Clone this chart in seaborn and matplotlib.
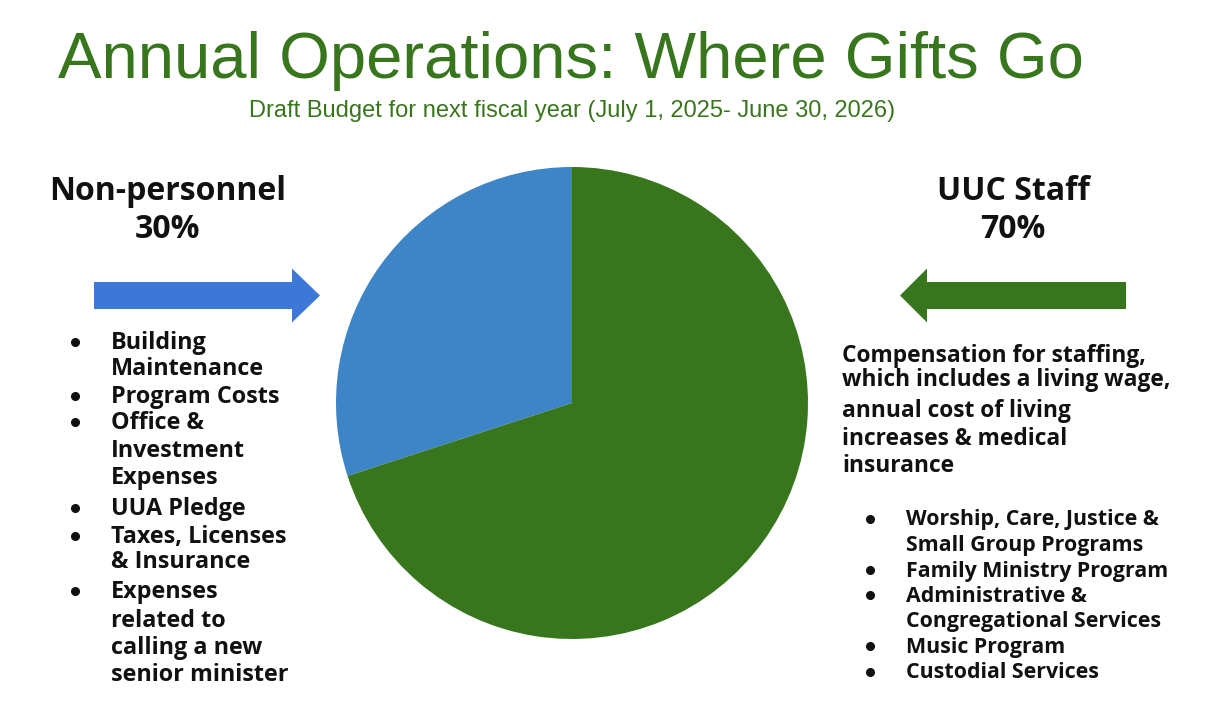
import matplotlib
matplotlib.use("Agg")
import matplotlib.pyplot as plt
import seaborn as sns
from matplotlib.patches import FancyArrow

# Data
categories = ["Non-personnel", "UUC Staff"]
shares = [30, 70]
left_items = [
    ["Building", "Maintenance"],
    ["Program Costs"],
    ["Office &", "Investment", "Expenses"],
    ["UUA Pledge"],
    ["Taxes, Licenses", "& Insurance"],
    ["Expenses", "related to", "calling a new", "senior minister"],
]
right_intro = [
    "Compensation for staffing,",
    "which includes a living wage,",
    "annual cost of living",
    "increases & medical",
    "insurance",
]
right_items = [
    ["Worship, Care, Justice &", "Small Group Programs"],
    ["Family Ministry Program"],
    ["Administrative &", "Congregational Services"],
    ["Music Program"],
    ["Custodial Services"],
]
title = "Annual Operations: Where Gifts Go"
subtitle = "Draft Budget for next fiscal year (July 1, 2025- June 30, 2026)"

sns.set_theme(style="white")
plt.rcParams["font.family"] = ["Open Sans", "DejaVu Sans"]

pie_colors = ["#3d85c6", "#38761d"]
green = "#38761d"
arrow_blue = "#3c78d8"
ink = "#111111"

W, H = 1217, 724
fig = plt.figure(figsize=(W / 100, H / 100), dpi=100)
fig.patch.set_facecolor("white")

# pixel-space overlay for text and arrows
ax = fig.add_axes([0, 0, 1, 1])
ax.set_xlim(0, W)
ax.set_ylim(H, 0)
ax.axis("off")
ax.patch.set_alpha(0)

# pie
cx, cy, r = 572, 403, 236
pax = fig.add_axes([(cx - r) / W, (H - cy - r) / H, 2 * r / W, 2 * r / H])
pax.pie(shares, colors=pie_colors, startangle=90, counterclock=True,
        wedgeprops=dict(linewidth=0))
pax.set_xlim(-1, 1)
pax.set_ylim(-1, 1)
pax.set_aspect("equal")

# titles
ax.text(571, 61, title, family="Liberation Sans", fontsize=47, color=green,
        ha="center", va="center")
ax.text(572, 111, subtitle, family="Liberation Sans", fontsize=17,
        color=green, ha="center", va="center")

# headings
ax.text(168, 211, f"{categories[0]}\n{shares[0]}%", fontsize=23,
        fontweight="bold", color=ink, ha="center", va="center",
        linespacing=1.2)
ax.text(1013, 211, f"{categories[1]}\n{shares[1]}%", fontsize=23,
        fontweight="bold", color=ink, ha="center", va="center",
        linespacing=1.2)

# arrows
ax.add_patch(FancyArrow(94, 295.5, 226, 0, width=27, head_width=54,
                        head_length=28, length_includes_head=True,
                        color=arrow_blue, linewidth=0))
ax.add_patch(FancyArrow(1126, 295.5, -226, 0, width=27, head_width=54,
                        head_length=27, length_includes_head=True,
                        color=green, linewidth=0))

# left bullet list (line centres in pixels)
left_y = [[341, 367], [395], [421, 449, 476], [507], [535, 560],
          [590, 619, 646, 673]]
for ys, lines in zip(left_y, left_items):
    ax.plot(75, ys[0] + 1, "o", ms=5.5, color=ink)
    for y, line in zip(ys, lines):
        ax.text(111, y + 2, line, fontsize=16.8, fontweight="bold",
                color=ink, ha="left", va="center")

# right paragraph
intro_y = [354, 378, 409, 437, 464]
for y, line in zip(intro_y, right_intro):
    ax.text(842, y + 2, line, fontsize=16.4, fontweight="bold", color=ink,
            ha="left", va="center")

right_y = [[518, 543], [569], [594, 619], [645], [671]]
for ys, lines in zip(right_y, right_items):
    ax.plot(870, ys[0] + 1, "o", ms=5.5, color=ink)
    for y, line in zip(ys, lines):
        ax.text(906, y + 2, line, fontsize=15.4, fontweight="bold",
                color=ink, ha="left", va="center")

fig.savefig("out.png", dpi=100, facecolor="white")
